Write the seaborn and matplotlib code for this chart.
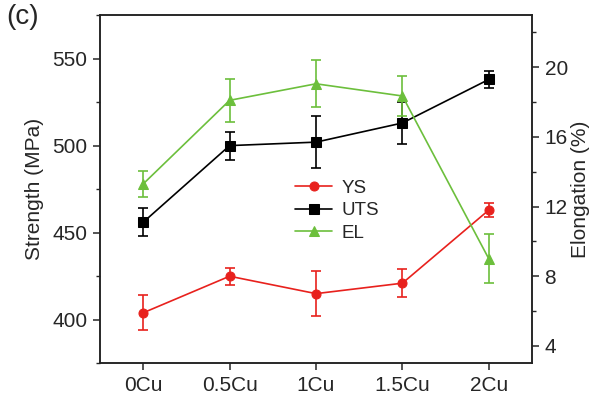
import matplotlib
matplotlib.use("Agg")
import matplotlib.pyplot as plt
import numpy as np
import pandas as pd
import seaborn as sns
from matplotlib.ticker import MultipleLocator

categories = ["0Cu", "0.5Cu", "1Cu", "1.5Cu", "2Cu"]
ys = [404, 425, 415, 421, 463]
ys_err = [10, 5, 13, 8, 4]
uts = [456, 500, 502, 513, 538]
uts_err = [8, 8, 15, 12, 5]
el = [13.3, 18.1, 19.05, 18.35, 9.0]
el_err = [0.76, 1.23, 1.35, 1.17, 1.4]

RED = "#e8211d"
GREEN = "#6cbf3c"
BLACK = "#000000"

sns.set_theme(style="ticks")
plt.rcParams["font.family"] = ["Liberation Sans", "DejaVu Sans"]
plt.rcParams["axes.linewidth"] = 1.1

df = pd.DataFrame({"pos": np.arange(len(categories)), "cat": categories,
                   "YS": ys, "UTS": uts, "EL": el})

fig = plt.figure(figsize=(5.91, 3.96), dpi=100)
ax = fig.add_axes([0.1692, 0.0826, 0.7310, 0.8795])
ax2 = ax.twinx()

series = [
    (ax, "YS", ys_err, RED, "o"),
    (ax, "UTS", uts_err, BLACK, "s"),
    (ax2, "EL", el_err, GREEN, "^"),
]
for a, name, err, color, marker in series:
    sns.lineplot(data=df, x="pos", y=name, ax=a, color=color, marker=marker,
                 markersize=6.5, markeredgecolor=color, linewidth=1.2,
                 label=name, legend=False, sort=False)
    a.errorbar(df["pos"], df[name], yerr=err, fmt="none", ecolor=color,
               elinewidth=1.2, capsize=3.5, capthick=1.2)

ax.set_xlim(-0.5, 4.5)
ax.set_xticks(df["pos"])
ax.set_xticklabels(categories)
ax.set_ylim(375, 575)
ax.set_yticks([400, 450, 500, 550])
ax.yaxis.set_minor_locator(MultipleLocator(25))
ax2.set_ylim(3, 23)
ax2.set_yticks([4, 8, 12, 16, 20])
ax2.yaxis.set_minor_locator(MultipleLocator(2))

ax.set_xlabel("")
ax.set_ylabel("Strength (MPa)", fontsize=15, labelpad=6)
ax2.set_ylabel("Elongation (%)", fontsize=15, labelpad=2)

for a in (ax, ax2):
    a.tick_params(axis="both", which="major", labelsize=15, direction="out",
                  length=5, width=1.1, pad=4)
    a.tick_params(axis="both", which="minor", direction="out", length=3,
                  width=1.0)
    for s in a.spines.values():
        s.set_visible(True)
        s.set_linewidth(1.1)
        s.set_color("#222222")

h1, l1 = ax.get_legend_handles_labels()
h2, l2 = ax2.get_legend_handles_labels()
ax2.legend(h1 + h2, l1 + l2, loc="upper left", bbox_to_anchor=(0.451, 0.528),
           frameon=False, fontsize=13.5, handlelength=2.0, handletextpad=0.5,
           labelspacing=0.3, borderpad=0, borderaxespad=0)

fig.text(0.01, 0.99, "(c)", fontsize=20, va="top", ha="left")

fig.savefig("out.png", dpi=100)
